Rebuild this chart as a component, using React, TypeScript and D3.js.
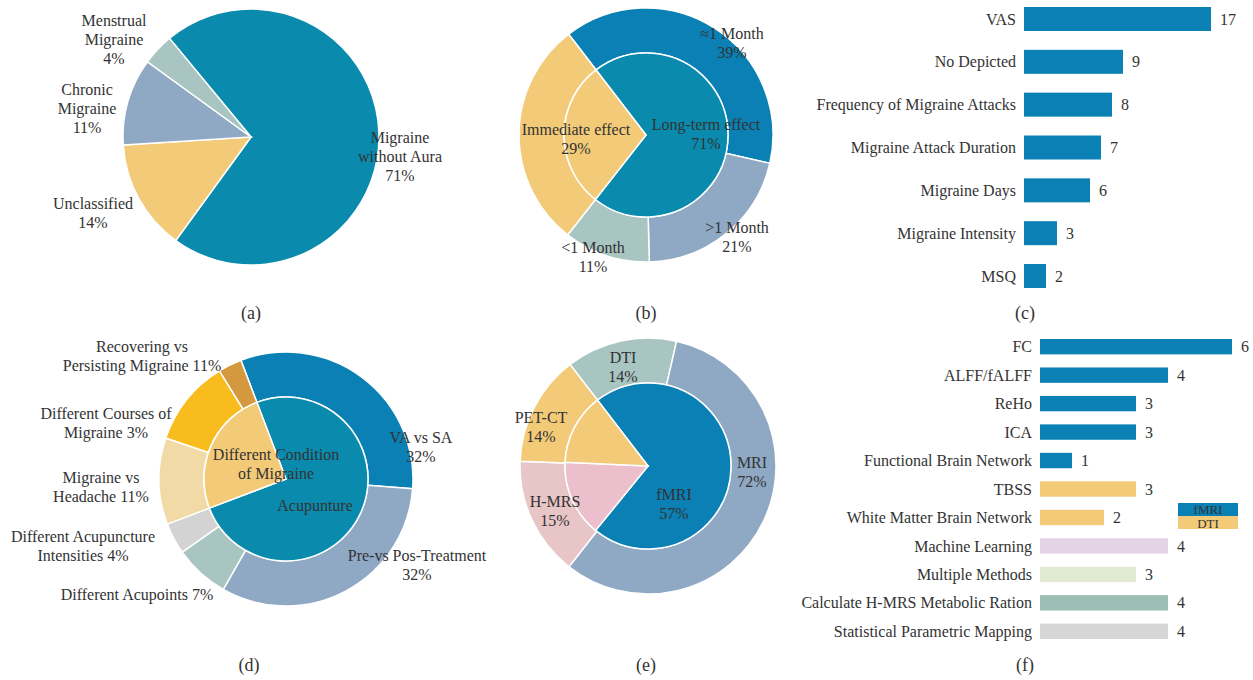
import React from 'react';
import * as d3 from 'd3';

// (a) migraine types
const typeNames = ['Migraine without Aura', 'Unclassified', 'Chronic Migraine', 'Menstrual Migraine'];
const typeValues = [71, 14, 11, 4];
const typeLabels = [['Migraine', 'without Aura', '71%'], ['Unclassified', '14%'], ['Chronic', 'Migraine', '11%'], ['Menstrual', 'Migraine', '4%']];

// (b) effect timing
const effectInnerNames = ['Long-term effect', 'Immediate effect'];
const effectInnerValues = [71, 29];
const effectInnerLabels = [['Long-term effect', '71%'], ['Immediate effect', '29%']];
const effectOuterNames = ['≈1 Month', '>1 Month', '<1 Month', 'Immediate'];
const effectOuterValues = [39, 21, 11, 29];
const effectOuterLabels = [['≈1 Month', '39%'], ['>1 Month', '21%'], ['<1 Month', '11%'], []];

// (c) outcome measures
const outcomeNames = ['VAS', 'No Depicted', 'Frequency of Migraine Attacks', 'Migraine Attack Duration', 'Migraine Days', 'Migraine Intensity', 'MSQ'];
const outcomeValues = [17, 9, 8, 7, 6, 3, 2];

// (d) study design
const designInnerNames = ['Acupunture', 'Different Condition of Migraine'];
const designInnerValues = [75, 25];
const designInnerLabels = [['Acupunture'], ['Different Condition', 'of Migraine']];
const designOuterNames = ['VA vs SA', 'Pre-vs Pos-Treatment', 'Different Acupoints', 'Different Acupuncture Intensities', 'Migraine vs Headache', 'Different Courses of Migraine', 'Recovering vs Persisting Migraine'];
const designOuterValues = [32, 32, 7, 4, 11, 11, 3];
const designOuterLabels = [
  ['VA vs SA', '32%'],
  ['Pre-vs Pos-Treatment', '32%'],
  ['Different Acupoints 7%'],
  ['Different Acupuncture', 'Intensities 4%'],
  ['Migraine vs', 'Headache 11%'],
  ['Different Courses of', 'Migraine 3%'],
  ['Recovering vs', 'Persisting Migraine 11%'],
];

// (e) imaging techniques
const imagingInnerNames = ['fMRI', 'H-MRS', 'PET-CT'];
const imagingInnerValues = [72, 15, 14];
const imagingInnerLabels = [['fMRI', '57%'], ['H-MRS', '15%'], ['PET-CT', '14%']];
const imagingOuterNames = ['DTI', 'MRI', 'H-MRS', 'PET-CT'];
const imagingOuterValues = [14, 57, 15, 14];
const imagingOuterLabels = [['DTI', '14%'], ['MRI', '72%'], [], []];

// (f) analysis methods
const methodNames = ['FC', 'ALFF/fALFF', 'ReHo', 'ICA', 'Functional Brain Network', 'TBSS', 'White Matter Brain Network', 'Machine Learning', 'Multiple Methods', 'Calculate H-MRS Metabolic Ration', 'Statistical Parametric Mapping'];
const methodValues = [6, 4, 3, 3, 1, 3, 2, 4, 3, 4, 4];
const legendNames = ['fMRI', 'DTI'];

const FONT = "'Liberation Serif', 'DejaVu Serif', serif";
const TEXT = '#333';
const TEAL = '#0a8aad';
const BLUE = '#0a80b4';
const YELLOW = '#f2ca78';
const GREYBLUE = '#8fa8c3';
const SAGE = '#a9c5c1';

const deg = (a: number) => (a * Math.PI) / 180;

interface Ring {
  values: number[];
  colors: string[];
  inner: number;
  outer: number;
  labels: string[][];
  labelPos: number[][];
}

function Lines({ x, y, lines, size = 16 }: { x: number; y: number; lines: string[]; size?: number }) {
  return (
    <text x={x} y={y} textAnchor="middle" fontFamily={FONT} fontSize={size} fill={TEXT}>
      {lines.map((l, i) => (
        <tspan key={i} x={x} y={y + i * 19} dy="0.35em">
          {l}
        </tspan>
      ))}
    </text>
  );
}

function Pie({ cx, cy, start, rings }: { cx: number; cy: number; start: number; rings: Ring[] }) {
  return (
    <g transform={`translate(${cx},${cy})`}>
      {rings.map((ring, ri) => {
        const arcs = d3.pie<number>().sort(null).startAngle(deg(start)).endAngle(deg(start + 360))(ring.values);
        const arc = d3.arc<d3.PieArcDatum<number>>().innerRadius(ring.inner).outerRadius(ring.outer);
        return (
          <g key={ri}>
            {arcs.map((a, i) => (
              <path key={i} d={arc(a) || ''} fill={ring.colors[i]} stroke="#fff" strokeWidth={1.5} />
            ))}
          </g>
        );
      })}
      {rings.map((ring, ri) =>
        ring.labels.map((l, i) =>
          l.length ? <Lines key={`${ri}-${i}`} x={ring.labelPos[i][0]} y={ring.labelPos[i][1]} lines={l} /> : null
        )
      )}
    </g>
  );
}

function Bars({ names, values, colors, max, x0, x1, y0, y1, pad }: { names: string[]; values: number[]; colors: string[]; max: number; x0: number; x1: number; y0: number; y1: number; pad: number }) {
  const x = d3.scaleLinear().domain([0, max]).range([x0, x1]);
  const y = d3.scaleBand().domain(names).range([y0, y1]).paddingInner(pad).paddingOuter(0);
  return (
    <g fontFamily={FONT} fontSize={16} fill={TEXT}>
      {names.map((n, i) => {
        const yc = (y(n) as number) + y.bandwidth() / 2;
        return (
          <g key={n}>
            <rect x={x(0)} y={y(n)} width={x(values[i]) - x(0)} height={y.bandwidth()} fill={colors[i]} />
            <text x={x0 - 8} y={yc} dy="0.35em" textAnchor="end">{n}</text>
            <text x={x(values[i]) + 9} y={yc} dy="0.35em">{values[i]}</text>
          </g>
        );
      })}
    </g>
  );
}

export default function App() {
  const captions = [
    ['(a)', 251, 319], ['(b)', 646, 319], ['(c)', 1025, 319],
    ['(d)', 249, 671], ['(e)', 646, 671], ['(f)', 1025, 671],
  ] as [string, number, number][];
  const methodColors = [BLUE, BLUE, BLUE, BLUE, BLUE, YELLOW, YELLOW, '#e2d4e4', '#e1ead2', '#9bbeb5', '#d6d6d6'];
  return (
    <svg width={1253} height={680} style={{ position: 'absolute', left: 0, top: 0, background: '#fff' }}>
      <Pie
        cx={251}
        cy={137}
        start={-39.6}
        rings={[{ values: typeValues, colors: [TEAL, YELLOW, GREYBLUE, SAGE], inner: 0, outer: 128, labels: typeLabels, labelPos: [[149, 0], [-158, 66], [-164, -48], [-137, -117]] }]}
      />
      <Pie
        cx={646}
        cy={135}
        start={-37.5}
        rings={[
          { values: effectOuterValues, colors: [BLUE, GREYBLUE, SAGE, YELLOW], inner: 82, outer: 127, labels: effectOuterLabels, labelPos: [[86, -102], [91, 92], [-53, 112], [0, 0]] },
          { values: effectInnerValues, colors: [TEAL, YELLOW], inner: 0, outer: 82, labels: effectInnerLabels, labelPos: [[60, -11], [-70, -6]] },
        ]}
      />
      <Bars names={outcomeNames} values={outcomeValues} colors={outcomeNames.map(() => BLUE)} max={17} x0={1024} x1={1211} y0={7} y1={288} pad={0.44} />
      <Pie
        cx={286}
        cy={479}
        start={-20.8}
        rings={[
          {
            values: designOuterValues,
            colors: [BLUE, GREYBLUE, SAGE, '#d3d3d3', '#f2daa6', '#f8bc1f', '#d4993e'],
            inner: 82,
            outer: 127,
            labels: designOuterLabels,
            labelPos: [[135, -42], [131, 76], [-149, 115], [-203, 57], [-185, -2], [-180, -66], [-144, -133]],
          },
          { values: designInnerValues, colors: [TEAL, YELLOW], inner: 0, outer: 82, labels: designInnerLabels, labelPos: [[29, 26], [-10, -25]] },
        ]}
      />
      <Pie
        cx={648}
        cy={466}
        start={-37.5}
        rings={[
          { values: imagingOuterValues, colors: [SAGE, GREYBLUE, '#e8c5c6', YELLOW], inner: 83, outer: 128, labels: imagingOuterLabels, labelPos: [[-25, -109], [104, -4], [0, 0], [0, 0]] },
          { values: imagingInnerValues, colors: [BLUE, '#ebbfcb', YELLOW], inner: 0, outer: 83, labels: imagingInnerLabels, labelPos: [[26, 28], [-93, 35], [-107, -49]] },
        ]}
      />
      <Bars names={methodNames} values={methodValues} colors={methodColors} max={6} x0={1040} x1={1232} y0={339} y1={639} pad={0.46} />
      <g fontFamily={FONT} fontSize={13} fill={TEXT}>
        {legendNames.map((n, i) => (
          <g key={n}>
            <rect x={1178} y={503 + i * 13} width={60} height={13} fill={i === 0 ? BLUE : YELLOW} />
            <text x={1208} y={509 + i * 14} dy="0.35em" textAnchor="middle">{n}</text>
          </g>
        ))}
      </g>
      {captions.map(([t, x, y]) => (
        <text key={t} x={x} y={y} textAnchor="middle" fontFamily={FONT} fontSize={18} fill={TEXT}>{t}</text>
      ))}
    </svg>
  );
}
